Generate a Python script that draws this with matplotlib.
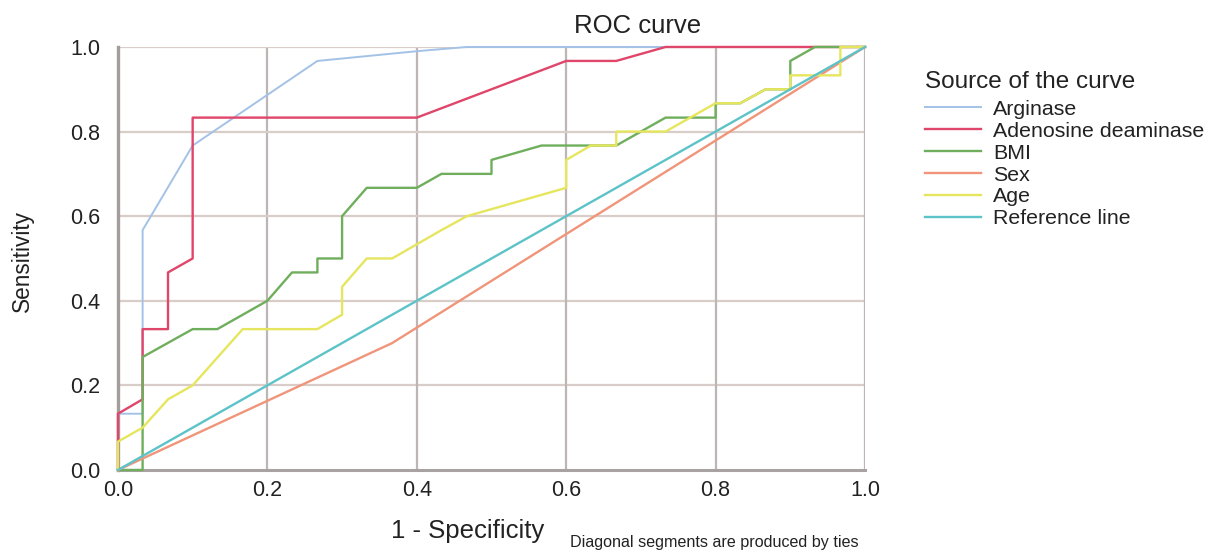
import matplotlib
matplotlib.use("Agg")
import matplotlib.pyplot as plt

plt.rcParams['font.family'] = ['Liberation Sans', 'DejaVu Sans']

title = "ROC curve"
xlabel = "1 - Specificity"
ylabel = "Sensitivity"
note = "Diagonal segments are produced by ties"
legend_title = "Source of the curve"
ticks = [0.0, 0.2, 0.4, 0.6, 0.8, 1.0]
tick_labels = ["0.0", "0.2", "0.4", "0.6", "0.8", "1.0"]

names = ["Arginase", "Adenosine deaminase", "BMI", "Sex", "Age", "Reference line"]
colors = ["#a3c2e6", "#e0456a", "#6fae5c", "#f0957a", "#e6e65e", "#5cc3c9"]

arginase_x = [0, 0, 0.033, 0.033, 0.1, 0.267, 0.4, 0.467, 1.0]
arginase_y = [0, 0.133, 0.133, 0.567, 0.767, 0.967, 0.99, 1.0, 1.0]

ada_x = [0, 0, 0.033, 0.033, 0.067, 0.067, 0.1, 0.1, 0.4, 0.6, 0.667, 0.733, 1.0]
ada_y = [0, 0.133, 0.167, 0.333, 0.333, 0.467, 0.5, 0.833, 0.833, 0.967, 0.967, 1.0, 1.0]

bmi_x = [0, 0.033, 0.033, 0.1, 0.133, 0.2, 0.233, 0.267, 0.267, 0.3, 0.3, 0.333, 0.4,
         0.433, 0.5, 0.5, 0.567, 0.667, 0.733, 0.8, 0.8, 0.833, 0.867, 0.9, 0.9, 0.933, 1.0]
bmi_y = [0, 0, 0.267, 0.333, 0.333, 0.4, 0.467, 0.467, 0.5, 0.5, 0.6, 0.667, 0.667,
         0.7, 0.7, 0.733, 0.767, 0.767, 0.833, 0.833, 0.867, 0.867, 0.9, 0.9, 0.967, 1.0, 1.0]

sex_x = [0, 0.367, 1.0]
sex_y = [0, 0.3, 1.0]

age_x = [0, 0, 0.033, 0.067, 0.1, 0.167, 0.267, 0.3, 0.3, 0.333, 0.367, 0.433, 0.467, 0.6,
         0.6, 0.633, 0.667, 0.667, 0.733, 0.8, 0.833, 0.867, 0.9, 0.9, 0.967, 0.967, 1.0]
age_y = [0, 0.067, 0.1, 0.167, 0.2, 0.333, 0.333, 0.367, 0.433, 0.5, 0.5, 0.567, 0.6, 0.667,
         0.733, 0.767, 0.767, 0.8, 0.8, 0.867, 0.867, 0.9, 0.9, 0.933, 0.933, 1.0, 1.0]

ref_x = [0, 1.0]
ref_y = [0, 1.0]

series = [(arginase_x, arginase_y), (ada_x, ada_y), (bmi_x, bmi_y),
          (sex_x, sex_y), (age_x, age_y), (ref_x, ref_y)]

fig = plt.figure(figsize=(12.11, 5.52), dpi=100)
ax = fig.add_axes([0.0974, 0.1486, 0.6169, 0.7663])

ax.set_xlim(0, 1)
ax.set_ylim(0, 1)
ax.set_xticks(ticks)
ax.set_yticks(ticks)
ax.set_xticklabels(tick_labels, fontsize=15.5, color="#222222")
ax.set_yticklabels(tick_labels, fontsize=15.5, color="#222222")
ax.tick_params(axis="y", length=0, pad=13)
ax.tick_params(axis="x", length=0, pad=7)

for t in ticks[1:]:
    ax.axvline(t, color="#bdb6b4", lw=1.6, zorder=1)
    ax.axhline(t, color="#d8cdc8", lw=1.6, zorder=1)

for sp in ["top", "right"]:
    ax.spines[sp].set_visible(False)
ax.spines["left"].set_color("#a39d9b")
ax.spines["left"].set_linewidth(2.4)
ax.spines["bottom"].set_color("#a8a2a0")
ax.spines["bottom"].set_linewidth(2.2)

handles = []
for (xs, ys), name, c in zip(series, names, colors):
    lw = 1.4 if name == "Arginase" else 1.7
    h, = ax.plot(xs, ys, color=c, lw=lw, label=name, zorder=3, clip_on=False)
    handles.append(h)

fig.text(0.5264, 1 - 33 / 552, title, fontsize=18.5, ha="center", va="baseline", color="#222222")
fig.text(467.5 / 1211, (552 - 538) / 552, xlabel, fontsize=18.5, ha="center", va="baseline", color="#222222")
fig.text(22 / 1211, 1 - 261 / 552, ylabel, fontsize=16.3, ha="center", va="center",
         rotation=90, color="#222222")
fig.text(570 / 1211, 5 / 552, note, fontsize=11.6, ha="left", va="baseline", color="#222222")

leg = fig.legend(handles=handles, labels=names, loc="upper left",
                 bbox_to_anchor=(925 / 1211, 1 - 71 / 552), frameon=False, fontsize=15.4,
                 title=legend_title, title_fontsize=17.5, handlelength=2.6,
                 handletextpad=0.6, labelspacing=0.135, borderpad=0, borderaxespad=0)
leg._legend_box.align = "left"
leg._legend_box.sep = 5
for t in leg.get_texts():
    t.set_color("#222222")
leg.get_title().set_color("#222222")

fig.savefig("out.png", dpi=100)
